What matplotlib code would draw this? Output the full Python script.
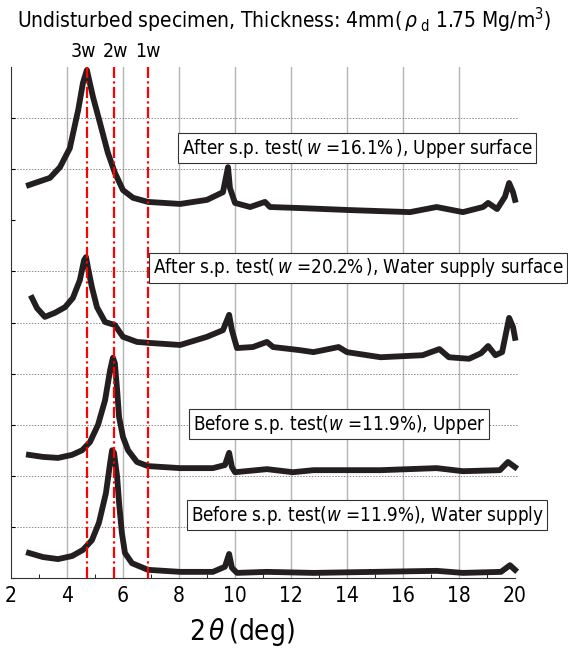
import numpy as np
import matplotlib
matplotlib.use('Agg')
import matplotlib.pyplot as plt
import matplotlib.transforms as mtransforms

# Font setup: condensed sans for the narrow lettering of the original
plt.rcParams['font.family'] = ['DejaVu Sans']
plt.rcParams['font.stretch'] = 'condensed'
plt.rcParams['mathtext.fontset'] = 'dejavusans'

# --- data (2theta in deg, stacked intensity in arbitrary units) ---
x_up_after = [2.64, 3.39, 3.75, 4.1, 4.4, 4.57, 4.71, 4.93, 5.18, 5.46, 5.71, 6.0, 6.36, 6.89,
              8.04, 9.0, 9.57, 9.75, 9.82, 10.0, 10.54, 11.07, 11.25, 12.3, 14.1, 16.25,
              17.2, 18.14, 18.86, 19.04, 19.36, 19.64, 19.79, 19.93, 20.0]
y_up_after = [7.69, 7.83, 8.04, 8.41, 9.16, 9.69, 9.94, 9.41, 8.9, 8.32, 7.93, 7.59, 7.44, 7.36,
              7.32, 7.4, 7.55, 8.04, 7.63, 7.34, 7.26, 7.36, 7.26, 7.24, 7.2, 7.16,
              7.26, 7.16, 7.26, 7.34, 7.22, 7.46, 7.73, 7.55, 7.4]

x_ws_after = [2.75, 2.93, 3.21, 3.57, 3.93, 4.21, 4.46, 4.61, 4.68, 4.75, 4.89, 5.07, 5.36, 5.71,
              6.0, 6.5, 6.96, 8.04, 9.0, 9.57, 9.79, 9.89, 10.07, 10.64, 11.14, 11.36, 12.3,
              12.8, 13.7, 14.0, 15.2, 16.7, 17.3, 17.64, 18.36, 18.79, 19.04, 19.3, 19.54,
              19.79, 19.93, 20.0]
y_ws_after = [5.48, 5.28, 5.11, 5.19, 5.3, 5.48, 5.83, 6.22, 6.28, 6.07, 5.69, 5.3, 5.01, 4.95,
              4.72, 4.62, 4.6, 4.56, 4.72, 4.85, 5.15, 4.85, 4.5, 4.52, 4.62, 4.52, 4.46,
              4.42, 4.52, 4.42, 4.32, 4.36, 4.48, 4.32, 4.29, 4.4, 4.54, 4.36, 4.42,
              5.09, 4.91, 4.7]

x_up_before = [2.64, 3.14, 3.68, 4.18, 4.54, 4.82, 5.11, 5.36, 5.54, 5.64, 5.71, 5.79, 5.86, 6.0,
               6.18, 6.5, 6.89, 8.04, 9.21, 9.64, 9.79, 9.89, 10.0, 11.14, 12.07, 12.8, 15.2,
               17.2, 18.14, 19.46, 19.75, 20.0]
y_up_before = [2.41, 2.37, 2.35, 2.41, 2.5, 2.66, 3.0, 3.48, 4.07, 4.31, 4.2, 3.68, 3.15, 2.76,
               2.5, 2.27, 2.19, 2.15, 2.15, 2.21, 2.45, 2.17, 2.07, 2.13, 2.07, 2.11, 2.11,
               2.15, 2.09, 2.11, 2.27, 2.17]

x_ws_before = [2.64, 3.14, 3.68, 4.18, 4.57, 4.89, 5.14, 5.39, 5.54, 5.61, 5.68, 5.79, 5.86, 5.96,
               6.07, 6.32, 6.89, 8.04, 9.21, 9.64, 9.79, 9.89, 10.07, 11.14, 12.8, 17.2, 18.14,
               19.5, 19.82, 20.0]
y_ws_before = [0.49, 0.41, 0.37, 0.43, 0.55, 0.74, 1.08, 1.66, 2.25, 2.5, 2.45, 1.98, 1.47, 0.88,
               0.49, 0.29, 0.16, 0.12, 0.12, 0.22, 0.47, 0.2, 0.1, 0.12, 0.1, 0.14, 0.1,
               0.12, 0.25, 0.16]

# reference reflection positions (3w, 2w, 1w)
ref_pos = [4.71, 5.68, 6.89]
ref_names = ['3w', '2w', '1w']
ref_label_x = [4.57, 5.72, 6.9]

labels = ['After s.p. test($\\,\\it{w}$ =16.1%$\\,$), Upper surface',
          'After s.p. test($\\,\\it{w}$ =20.2%$\\,$), Water supply surface',
          'Before s.p. test($\\it{w}$ =11.9%), Upper',
          'Before s.p. test($\\it{w}$ =11.9%), Water supply']
label_pos = [(8.1, 8.41), (7.06, 6.07), (8.49, 3.01), (8.42, 1.23)]

hgrid = [1, 2, 3, 4, 5, 6, 8, 9]

fig = plt.figure(figsize=(5.68, 6.49), dpi=100)
ax = fig.add_axes([11/568, 1-578/649, 504/568, 511/649])
ax.set_xlim(2, 20)
ax.set_ylim(0, 10)

# grid
for xv in range(4, 20, 2):
    ax.axvline(xv, color='#b4b4b4', lw=1.0, zorder=0)
for yv in hgrid:
    ax.plot([2, 20.1], [yv, yv], color='#8c8c8c', lw=0.7, ls=(0, (1.5, 1.5)), zorder=0, clip_on=False)

# curves
curve_color = '#231f20'
for xs, ys in [(x_up_after, y_up_after), (x_ws_after, y_ws_after),
               (x_up_before, y_up_before), (x_ws_before, y_ws_before)]:
    ax.plot(xs, ys, color=curve_color, lw=4.2, solid_joinstyle='round', zorder=2, clip_on=False)

# reference lines
trans = mtransforms.blended_transform_factory(ax.transData, ax.transAxes)
for xp, lx, name in zip(ref_pos, ref_label_x, ref_names):
    ax.axvline(xp, color='#ff0000', lw=1.6, ls=(0, (5, 1.5, 1, 1.5)), zorder=3)
    ax.text(lx, 1.03, name, transform=trans, ha='center', va='center', fontsize=14)

# sample labels
for txt, (lx, ly) in zip(labels, label_pos):
    ax.text(lx, ly, txt, ha='left', va='center', fontsize=13.5, zorder=4,
            bbox=dict(boxstyle='square,pad=0.18', facecolor='white', edgecolor='#333333', lw=0.8))

# axes styling
for s in ['top', 'right']:
    ax.spines[s].set_visible(False)
ax.spines['left'].set_color('#333333')
ax.spines['bottom'].set_color('#333333')
ax.set_xticks(range(2, 21, 2))
ax.set_xticks(range(3, 20, 2), minor=True)
ax.set_yticks(range(0, 10))
ax.set_yticklabels([])
ax.tick_params(axis='x', which='both', direction='in', labelsize=15, pad=6)
ax.tick_params(axis='x', which='major', length=0)
ax.tick_params(axis='x', which='minor', length=3)
ax.tick_params(axis='y', direction='in', length=3)

fig.text(0.5, 1-20/649, 'Undisturbed specimen, Thickness: 4mm($\\,\\it{\\rho}_{\\rm\\ d}$ 1.75 Mg/m$^3$)',
         ha='center', va='center', fontsize=15)
fig.text(242/568, 1-632/649, '2$\\,\\it{\\theta}\\,$(deg)', ha='center', va='center', fontsize=20)

fig.savefig('out.png', dpi=100)
